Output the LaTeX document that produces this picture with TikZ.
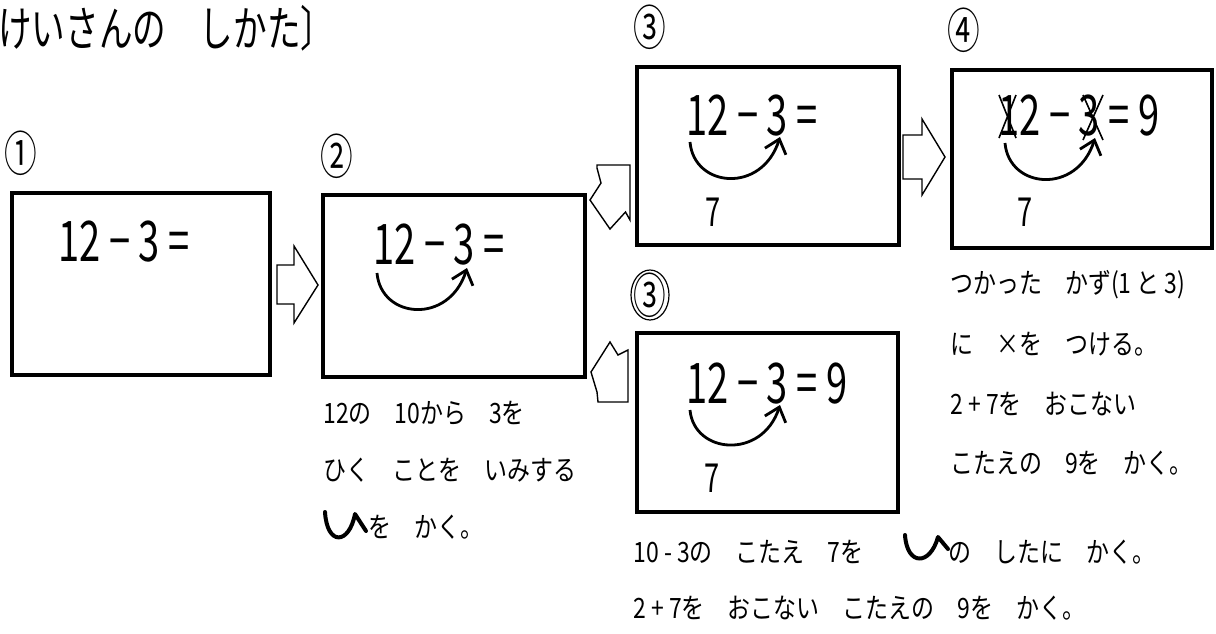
\documentclass[tikz,border=0pt]{standalone}
\usepackage{fontspec}
\usetikzlibrary{arrows.meta,calc}
\newfontfamily\jpfont{Noto Sans CJK JP}[FakeStretch=0.82]
\newfontfamily\titlefont{Noto Sans CJK JP}[FakeStretch=0.7]
\newfontfamily\eqfont{Noto Sans CJK JP}[FakeStretch=0.68]

\tikzset{
  panel/.style={draw, line width=2pt, inner sep=0pt},
  blockarr/.style={draw, line width=0.7pt, fill=white, line join=miter},
  swoop/.style={line width=1.4pt, -{Straight Barb[length=6.5pt,width=11pt,line width=1.4pt]}},
  eqn/.style={font=\eqfont\fontsize{28}{30}\selectfont, anchor=west, inner sep=0pt},
  seven/.style={font=\eqfont\fontsize{20}{22}\selectfont, inner sep=0pt},
  numtag/.style={font=\eqfont\fontsize{24}{26}\selectfont, inner sep=0pt},
  note/.style={font=\jpfont\fontsize{14}{16}\selectfont, anchor=west, inner sep=0pt},
  usym/.style={line width=2pt, line cap=round, line join=round}
}

\begin{document}
\begin{tikzpicture}[x=0.5pt, y=-0.5pt]
    % pixel grid of the scan: 1216 x 633, y axis pointing down
    \useasboundingbox (0,0) rectangle (1216,633);
    \node[anchor=west, inner sep=0pt, font=\titlefont\fontsize{24}{26}\selectfont] (title) at (-2,28) {けいさんの　しかた〕};
    % step numbers
    \node[numtag] (n1) at (21,153) {①};
    \node[numtag] (n2) at (337,156) {②};
    \node[numtag] (n3) at (650,27) {③};
    \node[numtag] (n4) at (964,30) {④};
    \node[numtag] (n3b) at (650,295) {③};
    \draw[line width=0.6pt] (n3b.center) ellipse [x radius=9.5pt, y radius=12.5pt];
    % panels
    \node[panel, minimum width=129pt, minimum height=91pt] (box1) at (141,284) {};
    \node[panel, minimum width=131pt, minimum height=91pt] (box2) at (454,286) {};
    \node[panel, minimum width=131pt, minimum height=89pt] (box3) at (768,156) {};
    \node[panel, minimum width=130pt, minimum height=89pt] (box4) at (1082,159) {};
    \node[panel, minimum width=130.5pt, minimum height=89.5pt] (box3b) at (767.5,422.5) {};
    % sums
    \node[eqn] (eq1) at (58,242) {12 − 3 =};
    \node[eqn] (eq2) at (373,245) {12 − 3 =};
    \node[eqn] (eq3) at (686,116) {12 − 3 =};
    \node[eqn] (eq4) at (998,116) {12 − 3 = 9};
    \node[eqn] (eq3b) at (686,384) {12 − 3 = 9};
    \node[seven] (s3) at (713,212) {7};
    \node[seven] (s4) at (1025,212) {7};
    \node[seven] (s3b) at (712,478) {7};
    % crossed out digits
    \draw[line width=0.8pt] (999,95) -- (1016,138) (1016,95) -- (999,138);
    \draw[line width=0.8pt] (1083,95) -- (1103,140) (1103,95) -- (1083,140);
    % curved arrows from 10 to 3
    \draw[swoop, shift={(377,273)}] (0,0) .. controls (4,46) and (72,52) .. (90,-5);
    \draw[swoop, shift={(690,142)}] (0,0) .. controls (4,46) and (72,52) .. (90,-5);
    \draw[swoop, shift={(1005,143)}] (0,0) .. controls (4,46) and (72,52) .. (90,-5);
    \draw[swoop, shift={(690,410)}] (0,0) .. controls (4,44) and (72,50) .. (90,-5);
    % block arrows
    \draw[blockarr, shift={(277,285)}] (0,-20) -- (17,-20) -- (17,-39) -- (41,0) -- (17,38) -- (17,19) -- (0,19) -- cycle;
    \draw[blockarr, shift={(903,157)}] (0,-22) -- (19,-22) -- (19,-38) -- (42,0) -- (19,38) -- (19,22) -- (0,22) -- cycle;
    \draw[blockarr] (597,165) -- (630,165) -- (630,220) -- (625.5,212) -- (610,229) -- (590,200) -- (601,183) -- (597,168) -- cycle;
    \draw[blockarr] (610,342) -- (618,355) -- (628,350) -- (628,402) -- (598,402) -- (597,392) -- (591,372) -- cycle;
    % notes under panel 2
    \node[note] (t2a) at (323,413) {12の　10から　3を};
    \node[note] (t2b) at (323,470) {ひく　ことを　いみする};
    \node[note] (t2c) at (368,527) {を　かく。};
    \draw[usym] (325,512) .. controls (327,546) and (349,545) .. (355,514) -- (366,531);
    % notes under panel 4
    \node[note] (t4a) at (950,285) {つかった　かず(1 と 3)};
    \node[note] (t4b) at (950,344) {に　×を　つける。};
    \node[note] (t4c) at (950,404) {2 + 7を　おこない};
    \node[note] (t4d) at (950,463) {こたえの　9を　かく。};
    % notes under the second panel 3
    \node[note] (tba) at (633,552) {10 - 3の　こたえ　7を};
    \node[note] (tbb) at (948,552) {の　したに　かく。};
    \draw[usym] (905,535) .. controls (907,566) and (930,566) .. (938,537) -- (948,549);
    \node[note] (tbc) at (633,608) {2 + 7を　おこない　こたえの　9を　かく。};
\end{tikzpicture}
\end{document}
